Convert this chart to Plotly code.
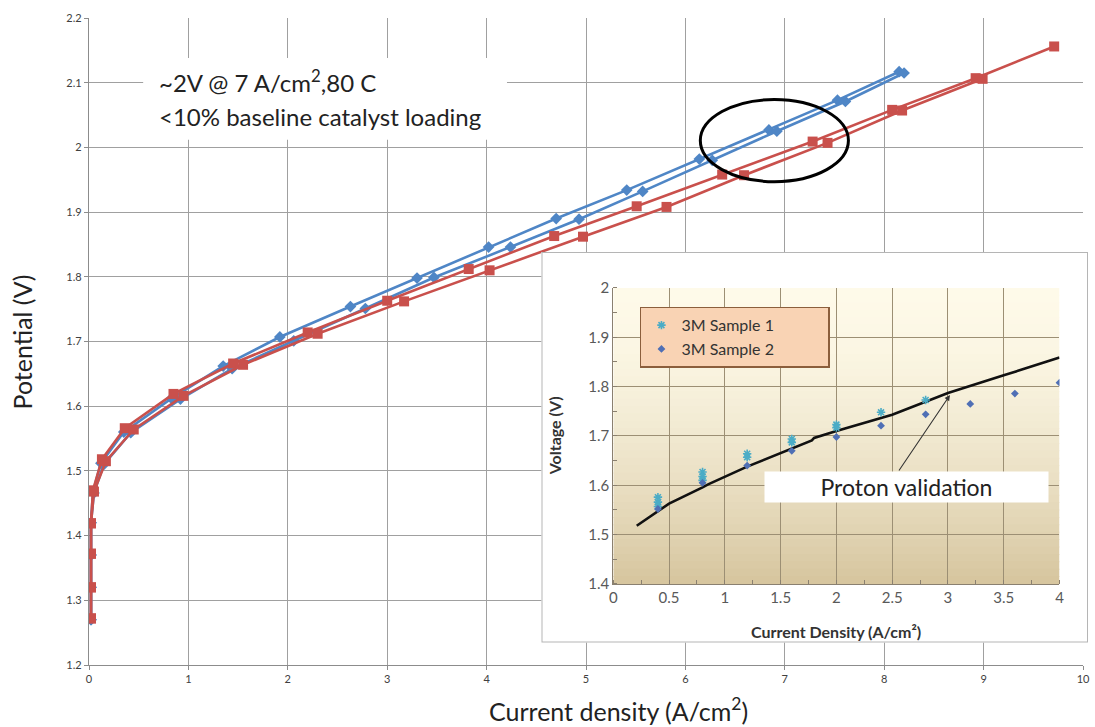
import plotly.graph_objects as go

# ---------------- main chart data ----------------
blue1_x = [0.02, 0.02, 0.02, 0.02, 0.04, 0.12, 0.35, 0.83, 1.35, 1.92, 2.63, 3.30, 4.02, 4.70, 5.41, 6.14, 6.84, 7.53, 8.15]
blue1_y = [1.27, 1.32, 1.37, 1.42, 1.468, 1.512, 1.560, 1.612, 1.662, 1.707, 1.754, 1.798, 1.846, 1.890, 1.934, 1.982, 2.027, 2.073, 2.117]
blue2_x = [0.02, 0.02, 0.02, 0.02, 0.05, 0.15, 0.42, 0.92, 1.44, 2.06, 2.78, 3.47, 4.24, 4.93, 5.57, 6.27, 6.92, 7.61, 8.20]
blue2_y = [1.27, 1.32, 1.37, 1.42, 1.466, 1.510, 1.559, 1.611, 1.658, 1.701, 1.751, 1.799, 1.846, 1.889, 1.932, 1.980, 2.025, 2.071, 2.115]
red1_x = [0.02, 0.02, 0.02, 0.02, 0.04, 0.13, 0.36, 0.85, 1.45, 2.20, 3.00, 3.82, 4.68, 5.51, 6.37, 7.28, 8.08, 8.92, 9.71]
red1_y = [1.272, 1.320, 1.372, 1.419, 1.470, 1.518, 1.566, 1.619, 1.666, 1.714, 1.763, 1.812, 1.863, 1.909, 1.958, 2.009, 2.058, 2.107, 2.156]
red2_x = [0.02, 0.02, 0.02, 0.02, 0.05, 0.17, 0.45, 0.95, 1.55, 2.30, 3.17, 4.03, 4.97, 5.81, 6.59, 7.43, 8.18, 8.99]
red2_y = [1.272, 1.320, 1.372, 1.419, 1.468, 1.515, 1.564, 1.616, 1.664, 1.712, 1.762, 1.810, 1.862, 1.908, 1.957, 2.007, 2.057, 2.106]

main_xticks = [0, 1, 2, 3, 4, 5, 6, 7, 8, 9, 10]
main_yticks = [1.2, 1.3, 1.4, 1.5, 1.6, 1.7, 1.8, 1.9, 2.0, 2.1, 2.2]

# ---------------- inset data ----------------
s1_x = [0.4, 0.4, 0.4, 0.8, 0.8, 0.8, 1.2, 1.2, 1.6, 1.6, 2.0, 2.0, 2.4, 2.8]
s1_y = [1.576, 1.566, 1.557, 1.627, 1.618, 1.610, 1.664, 1.657, 1.694, 1.687, 1.723, 1.717, 1.748, 1.773]
s2_x = [0.4, 0.8, 1.2, 1.6, 2.0, 2.4, 2.8, 3.2, 3.6, 4.0]
s2_y = [1.552, 1.605, 1.640, 1.670, 1.698, 1.721, 1.744, 1.765, 1.786, 1.808]
proton_x = [0.21, 0.50, 0.80, 0.85, 1.20, 1.50, 1.78, 1.80, 2.00, 2.50, 3.00, 3.50, 4.00]
proton_y = [1.518, 1.563, 1.596, 1.602, 1.638, 1.666, 1.691, 1.696, 1.710, 1.743, 1.787, 1.823, 1.859]

inset_xticks = [0, 0.5, 1, 1.5, 2, 2.5, 3, 3.5, 4]
inset_yticks = [1.4, 1.5, 1.6, 1.7, 1.8, 1.9, 2.0]
legend_names = ["3M Sample 1", "3M Sample 2"]

BLUE = "#4f86c6"
RED = "#c9504c"
FONT = "Lato"
PAD = "&nbsp;" * 12

fig = go.Figure()

for xs, ys in [(blue1_x, blue1_y), (blue2_x, blue2_y)]:
    fig.add_trace(go.Scatter(x=xs, y=ys, mode="lines+markers", showlegend=False,
                             line=dict(color=BLUE, width=2.6),
                             marker=dict(symbol="diamond", size=9, color=BLUE),
                             xaxis="x", yaxis="y"))
for xs, ys in [(red1_x, red1_y), (red2_x, red2_y)]:
    fig.add_trace(go.Scatter(x=xs, y=ys, mode="lines+markers", showlegend=False,
                             line=dict(color=RED, width=2.6),
                             marker=dict(symbol="square", size=10, color=RED),
                             xaxis="x", yaxis="y"))

# empty trace to create the inset frame subplot (x2/y2)
fig.add_trace(go.Scatter(x=[], y=[], xaxis="x2", yaxis="y2", showlegend=False, hoverinfo="skip"))

# inset traces (x3/y3)
fig.add_trace(go.Scatter(x=proton_x, y=proton_y, mode="lines", showlegend=False,
                         line=dict(color="#111111", width=2.6), xaxis="x3", yaxis="y3"))
fig.add_trace(go.Scatter(x=s1_x, y=s1_y, mode="markers", name=legend_names[0] + PAD,
                         marker=dict(symbol="asterisk-open", size=7, color="#4bacc6",
                                     line=dict(color="#4bacc6", width=1.6)),
                         xaxis="x3", yaxis="y3"))
fig.add_trace(go.Scatter(x=s2_x, y=s2_y, mode="markers", name=legend_names[1] + PAD,
                         marker=dict(symbol="diamond", size=6, color="#4f6fb5"),
                         xaxis="x3", yaxis="y3"))

shapes = []
# white frame of inset (clipped to x2y2 domain)
shapes.append(dict(type="rect", xref="x2", yref="y2", x0=0, x1=1, y0=0, y1=1, layer="below",
                   fillcolor="white", line=dict(color="#b5b5b5", width=2)))
# gradient background of inset plot
n = 40
top = (254, 250, 233)
bot = (214, 197, 158)
for i in range(n):
    t = (i + 0.5) / n
    tt = t ** 1.6
    c = tuple(int(round(top[k] + (bot[k] - top[k]) * tt)) for k in range(3))
    y1 = 2.0 - 0.6 * i / n
    y0 = 2.0 - 0.6 * (i + 1) / n
    shapes.append(dict(type="rect", xref="x3", yref="y3", x0=0, x1=4, y0=y0 - 0.001, y1=y1 + 0.001,
                       layer="below", fillcolor="rgb(%d,%d,%d)" % c, line=dict(width=0)))
# white box behind main annotation
shapes.append(dict(type="rect", xref="x", yref="y", x0=0.545, x1=4.205, y0=2.012, y1=2.138,
                   layer="above", fillcolor="white", line=dict(width=0)))
# ellipse
shapes.append(dict(type="circle", xref="x", yref="y", x0=6.15, x1=7.64, y0=1.947, y1=2.074,
                   layer="above", line=dict(color="black", width=3)))

annotations = [
    dict(text="~2V @ 7 A/cm<sup>2</sup>,80 C", xref="x", yref="y", x=0.68, y=2.103,
         xanchor="left", yanchor="middle", showarrow=False, font=dict(family=FONT, size=24, color="#222")),
    dict(text="&lt;10% baseline catalyst loading", xref="x", yref="y", x=0.68, y=2.048,
         xanchor="left", yanchor="middle", showarrow=False, font=dict(family=FONT, size=24, color="#222")),
    dict(text="Current density (A/cm<sup>2</sup>)", xref="paper", yref="paper", x=0.5285, y=-0.0685,
         xanchor="center", yanchor="middle", showarrow=False, font=dict(family=FONT, size=25, color="#222")),
    dict(text="Potential (V)", xref="paper", yref="paper", x=-0.067, y=0.5, textangle=-90,
         xanchor="center", yanchor="middle", showarrow=False, font=dict(family=FONT, size=25, color="#222")),
    dict(text="<b>Voltage (V)</b>", xref="paper", yref="paper", x=0.4645, y=0.355, textangle=-90,
         xanchor="center", yanchor="middle", showarrow=False, font=dict(family=FONT, size=16, color="#333")),
    dict(text="<b>Current Density (A/cm²)</b>", xref="paper", yref="paper", x=0.7466, y=0.052,
         xanchor="center", yanchor="middle", showarrow=False, font=dict(family=FONT, size=16, color="#333")),
    dict(text="Proton validation", xref="x3", yref="y3", x=2.624, y=1.5966,
         xanchor="center", yanchor="middle", showarrow=False, width=279, height=26, borderpad=2,
         bgcolor="white", font=dict(family=FONT, size=23, color="#222")),
    dict(text="", xref="x3", yref="y3", x=3.018, y=1.783, axref="x3", ayref="y3", ax=2.552, ay=1.627,
         showarrow=True, arrowhead=2, arrowsize=1, arrowwidth=1.1, arrowcolor="#333", standoff=0),
]

fig.update_layout(
    width=1095, height=727, autosize=False,
    margin=dict(l=89, r=5, t=18, b=62, autoexpand=False),
    paper_bgcolor="white", plot_bgcolor="white",
    font=dict(family=FONT, color="#404040"),
    shapes=shapes, annotations=annotations,
    showlegend=True,
    legend=dict(x=0.5504, y=0.5538, xanchor="left", yanchor="top",
                bgcolor="#f9d3b4", bordercolor="#8b5e3c", borderwidth=1.5,
                font=dict(family=FONT, size=16, color="#333"), tracegroupgap=0),
    xaxis=dict(domain=[0, 0.993007], range=[0, 10], tickvals=main_xticks, showgrid=True, automargin=False,
               gridcolor="#a0a0a0", gridwidth=1.2, showline=True, linecolor="#8c8c8c", linewidth=1.2,
               ticks="outside", ticklen=4, tickcolor="#8c8c8c", tickfont=dict(size=11, color="#404040"),
               zeroline=False, anchor="y"),
    yaxis=dict(domain=[0, 1], range=[1.2, 2.2], tickvals=main_yticks, showgrid=True, automargin=False,
               gridcolor="#a0a0a0", gridwidth=1.2, showline=True, linecolor="#8c8c8c", linewidth=1.2,
               ticks="outside", ticklen=4, tickcolor="#8c8c8c", tickfont=dict(size=11, color="#404040"),
               zeroline=False, anchor="x"),
    xaxis2=dict(domain=[0.45205, 0.998], range=[0, 1], visible=False, anchor="y2", automargin=False),
    yaxis2=dict(domain=[0.03478, 0.63833], range=[0, 1], visible=False, anchor="x2", automargin=False),
    xaxis3=dict(domain=[0.52378, 0.96953], range=[0, 4], tickvals=inset_xticks, showgrid=True, automargin=False,
                gridcolor="#9c8f74", gridwidth=1, showline=True, linecolor="#8a8070", linewidth=1.2,
                ticks="", tickfont=dict(size=15, color="#595959"), zeroline=False, anchor="y3",
                minor=dict(dtick=0.25, ticks="inside", ticklen=4, tickcolor="#8a8070", showgrid=False)),
    yaxis3=dict(domain=[0.1252, 0.5827], range=[1.4, 2.0], tickvals=inset_yticks, showgrid=True, automargin=False,
                gridcolor="#9c8f74", gridwidth=1, showline=True, linecolor="#8a8070", linewidth=1.2,
                ticks="", tickfont=dict(size=15, color="#595959"), zeroline=False, anchor="x3",
                minor=dict(dtick=0.05, ticks="inside", ticklen=4, tickcolor="#8a8070", showgrid=False)),
)

fig.write_html("out.html",
               config={"responsive": False, "displayModeBar": False},
               post_script="document.body.style.margin='0';document.body.style.overflow='hidden';")
